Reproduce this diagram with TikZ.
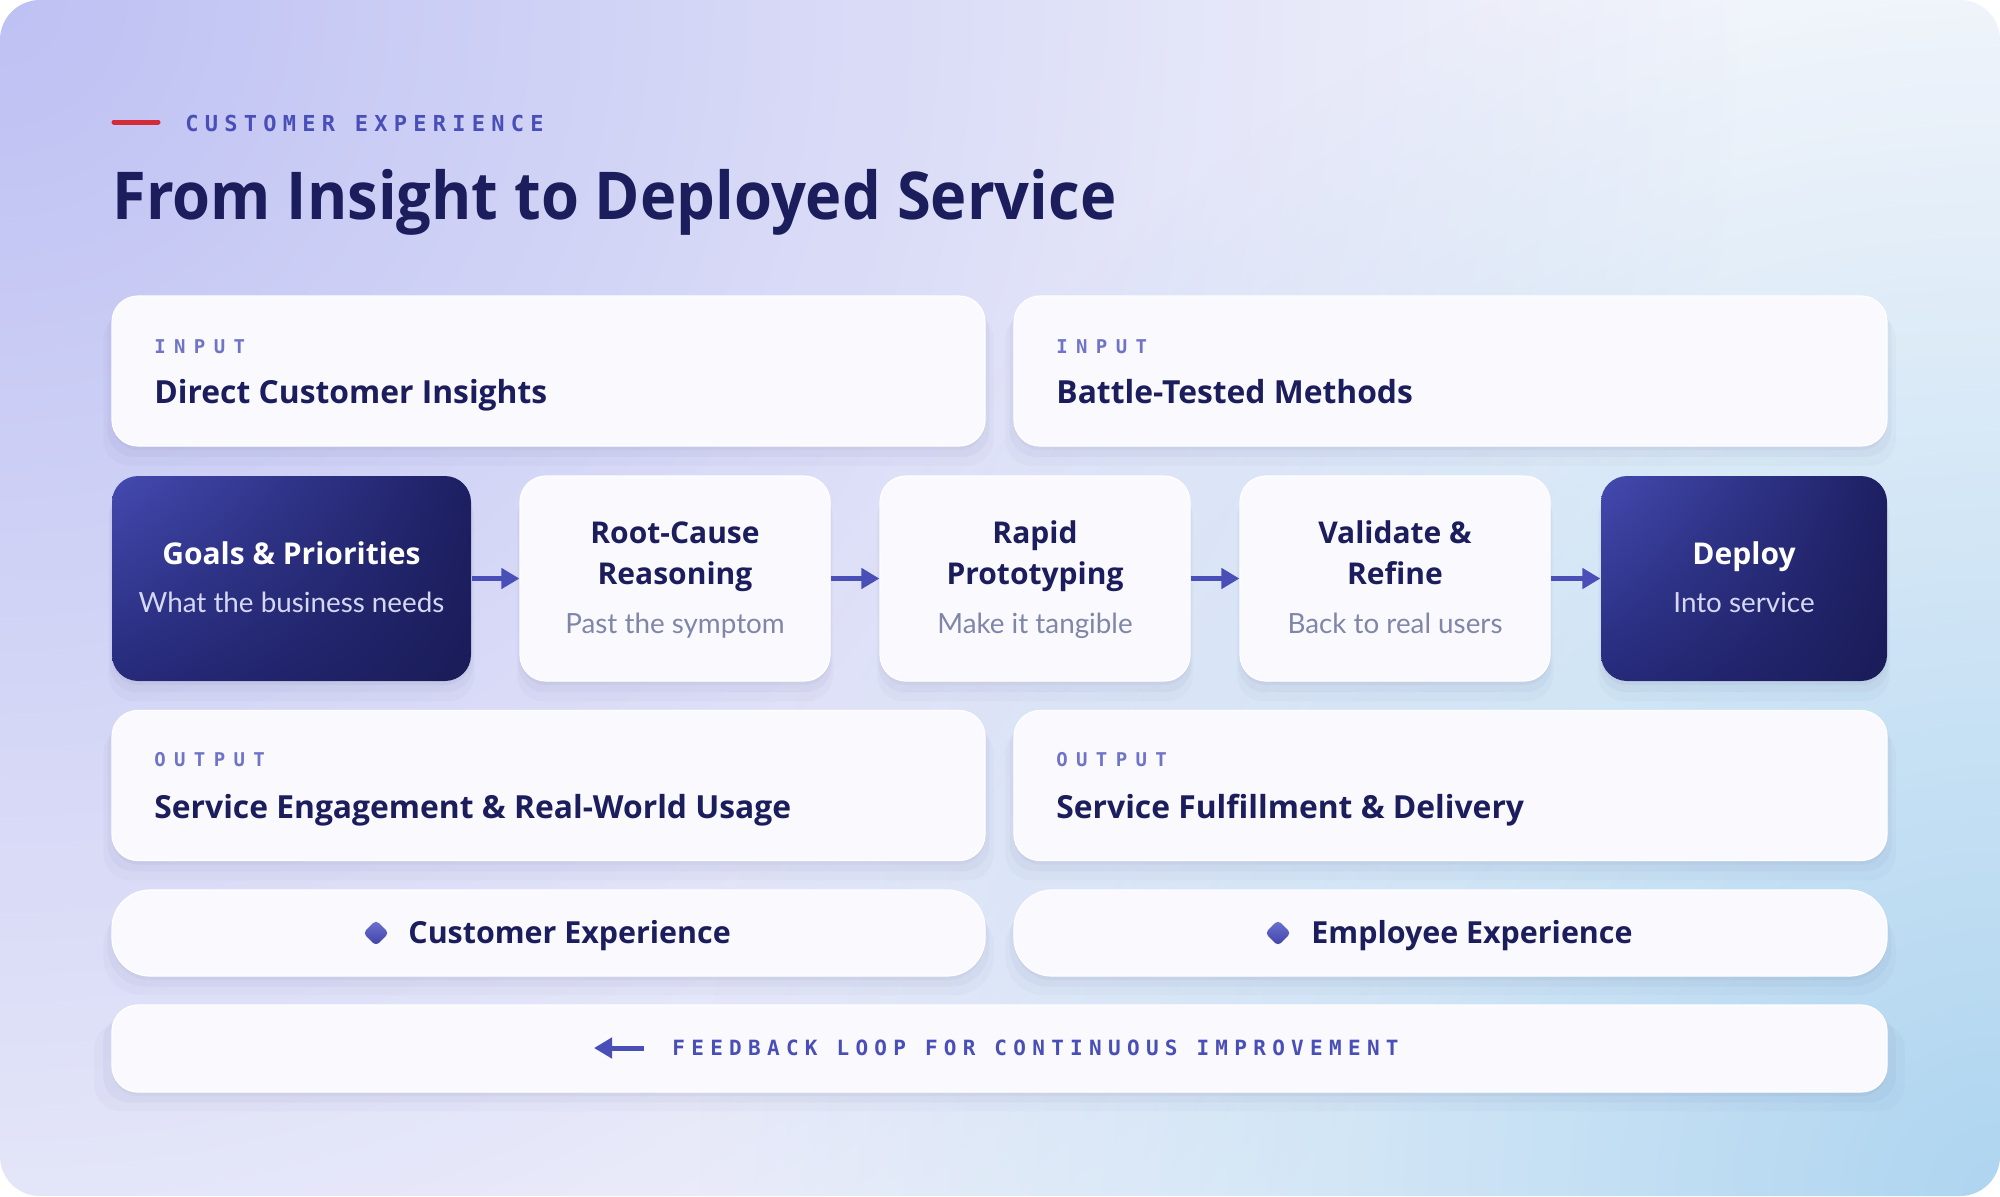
\documentclass[tikz,border=0pt]{standalone}
\usepackage{fontspec}
\setmainfont{Lato}
\newfontfamily\headfont{Open Sans}
\newfontfamily\titlefont{Open Sans}[FakeStretch=0.93]
\newfontfamily\tagfont{DejaVu Sans Mono}
\usetikzlibrary{shapes.geometric,shadows,shadings,fadings,arrows.meta}
\definecolor{navy}{HTML}{1B1D5C}
\definecolor{accent}{HTML}{4A4FB8}
\definecolor{tagc}{HTML}{7074C8}
\definecolor{subgrey}{HTML}{7F86A8}
\definecolor{subdark}{HTML}{D5D8F2}
\definecolor{redc}{HTML}{D42A3A}
\definecolor{cardbg}{HTML}{F9F9FE}
\definecolor{basebg}{HTML}{F6F7FC}
\definecolor{lavglow}{HTML}{BEC1F3}
\definecolor{blueglow}{HTML}{AED5F0}
\definecolor{darkA}{HTML}{444AB0}
\definecolor{darkB}{HTML}{1D1F62}
\definecolor{darkC}{HTML}{262A7A}
\definecolor{darkD}{HTML}{1A1C58}
\definecolor{bulA}{HTML}{6E73D2}
\definecolor{bulB}{HTML}{3D42A6}
\tikzfading[name=glow, inner color=transparent!0, outer color=transparent!100]
\begin{document}
\begin{tikzpicture}[x=0.5pt, y=-0.5pt,
  card/.style={draw=white, line width=0.6pt, fill=cardbg, rounded corners=13pt, inner sep=0pt,
    drop shadow={shadow xshift=0pt, shadow yshift=-2pt, opacity=0.035, fill=navy},
    drop shadow={shadow xshift=0pt, shadow yshift=-5pt, opacity=0.03, fill=navy, shadow scale=1.01},
    drop shadow={shadow xshift=0pt, shadow yshift=-9pt, opacity=0.025, fill=navy, shadow scale=1.02}},
  lite/.style={card, minimum height=102.5pt},
  dark/.style={card, draw=none, minimum height=102.5pt,
    upper left=darkA, upper right=darkB, lower left=darkC, lower right=darkD},
  wide/.style={card, minimum width=436.5pt, minimum height=75pt},
  pill/.style={card, rounded corners=19pt, minimum width=436.5pt, minimum height=43pt},
  bullet/.style={diamond, aspect=1, minimum size=13pt, inner sep=0pt, rounded corners=2pt,
    top color=bulA, bottom color=bulB},
  tag/.style={font=\tagfont\bfseries\fontsize{9.5}{10}\selectfont\addfontfeature{LetterSpace=44},
    text=tagc, anchor=base west, inner sep=0pt},
  head/.style={font=\headfont\bfseries\fontsize{15.9}{18}\selectfont, text=navy, anchor=base west, inner sep=0pt},
  stitle/.style={font=\headfont\bfseries\fontsize{15}{20.5}\selectfont, align=center, anchor=base, inner sep=0pt},
  ssub/.style={font=\fontsize{13.9}{16}\selectfont, anchor=base, inner sep=0pt},
  flow/.style={-{Triangle[length=9pt, width=10pt]}, line width=2.5pt, accent}]
\fill[white] (0,0) rectangle (2000,1196);
\begin{scope}
\clip[rounded corners=20pt] (0,0) rectangle (2000,1196);
\fill[basebg] (0,0) rectangle (2000,1196);
\fill[lavglow, path fading=glow] (0,0) circle (1750);
\fill[blueglow, path fading=glow] (2000,1196) circle (1300);
\end{scope}
\draw[line width=2.5pt, line cap=round, redc] (114,122) -- (158,122);
\node[tag, text=accent, font=\tagfont\bfseries\fontsize{11}{12}\selectfont\addfontfeature{LetterSpace=28.5}] (kicker) at (185,131) {CUSTOMER EXPERIENCE};
\node[anchor=base west, inner sep=0pt, text=navy, font=\titlefont\bfseries\fontsize{33}{36}\selectfont] (title) at (112,219) {From Insight to Deployed Service};
\node[wide] (in1) at (548.5,371) {};
\node[wide] (in2) at (1450.5,371) {};
\node[tag] (in1-k) at (154,353.5) {INPUT};
\node[head] (in1-t) at (154,403) {Direct Customer Insights};
\node[tag] (in2-k) at (1056,353.5) {INPUT};
\node[head] (in2-t) at (1056,403) {Battle-Tested Methods};
\foreach \n/\x/\w/\s/\tc/\sc/\ty/\sy/\t/\u in {
  goal/291.5/179.5/dark/white/subdark/564/612/{Goals \& Priorities}/{What the business needs},
  root/675/155/lite/navy/subgrey/584/633/{Root-Cause\\Reasoning}/{Past the symptom},
  proto/1035/155/lite/navy/subgrey/584/633/{Rapid\\Prototyping}/{Make it tangible},
  check/1395/155/lite/navy/subgrey/584/633/{Validate \&\\Refine}/{Back to real users},
  deploy/1744/143/dark/white/subdark/564/612/{Deploy}/{Into service}} {
  \node[\s, minimum width=\w pt] (\n) at (\x,578.5) {};
  \node[stitle, text=\tc] (\n-t) at (\x,\ty) {\t};
  \node[ssub, text=\sc] (\n-s) at (\x,\sy) {\u};
}
\foreach \a/\b in {goal/root, root/proto, proto/check, check/deploy}
  \draw[flow] (\a) -- (\b);
\node[wide] (out1) at (548.5,785.5) {};
\node[wide] (out2) at (1450.5,785.5) {};
\node[tag] (out1-k) at (154,766.5) {OUTPUT};
\node[head] (out1-t) at (154,818) {Service Engagement \& Real-World Usage};
\node[tag] (out2-k) at (1056,766.5) {OUTPUT};
\node[head] (out2-t) at (1056,818) {Service Fulfillment \& Delivery};
\node[pill] (cx) at (548.5,933) {};
\node[pill] (ex) at (1450.5,933) {};
\node[bullet] (cx-d) at (376,933) {};
\node[head, font=\headfont\bfseries\fontsize{15.2}{18}\selectfont] (cx-t) at (408,943) {Customer Experience};
\node[bullet] (ex-d) at (1278,933) {};
\node[head, font=\headfont\bfseries\fontsize{15.2}{18}\selectfont] (ex-t) at (1311,943) {Employee Experience};
\node[card, minimum width=887.5pt, minimum height=43.5pt] (fb) at (999.5,1048.5) {};
\node[tag, text=accent, font=\tagfont\bfseries\fontsize{10.5}{12}\selectfont\addfontfeature{LetterSpace=30}] (fb-t) at (672,1055) {FEEDBACK LOOP FOR CONTINUOUS IMPROVEMENT};
\coordinate (fb-a) at (644,1048);
\coordinate (fb-b) at (594,1048);
\draw[flow] (fb-a) -- (fb-b);
\end{tikzpicture}
\end{document}
